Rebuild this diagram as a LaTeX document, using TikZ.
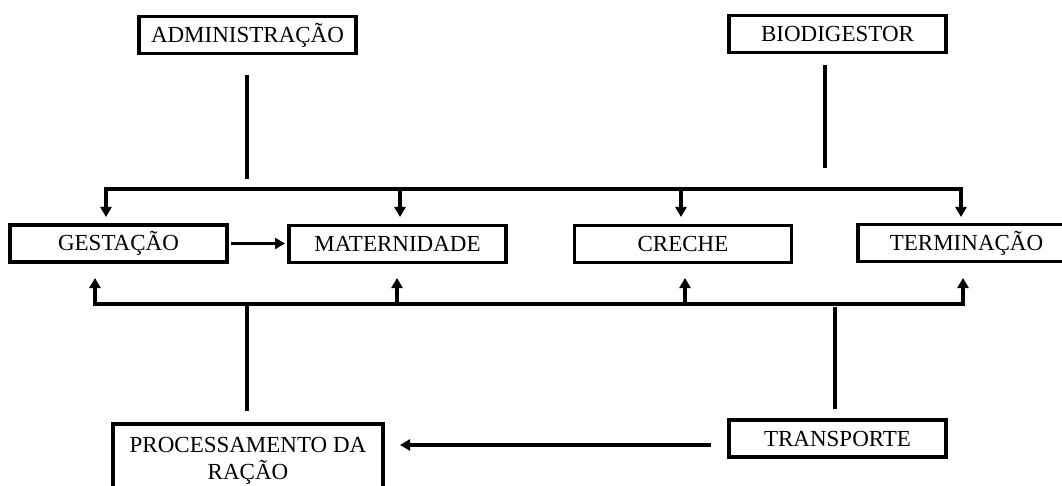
\documentclass[tikz,border=0pt]{standalone}
\usepackage{fontspec}
\setmainfont{Liberation Serif}
\usetikzlibrary{arrows.meta}
\begin{document}
\begin{tikzpicture}[x=1pt,y=-1pt,
  box/.style={draw, line width=3.1pt, minimum width=217pt, minimum height=37pt,
    inner sep=0pt, outer sep=0pt, text height=15pt, text depth=0pt,
    font=\fontsize{23}{27}\selectfont},
  procbox/.style={draw, line width=3.1pt, minimum width=270pt, minimum height=74pt,
    inner sep=0pt, outer sep=0pt, align=center,
    font=\fontsize{23}{27}\selectfont},
  conn/.style={line width=3.1pt},
  tip/.tip={Triangle[width=11pt,length=10pt]},
  arr/.style={conn, -tip},
  ]
\useasboundingbox (0,0) rectangle (1062,486);
\fill[white] (0,0) rectangle (1062,486);

% boxes
\node[box] (adm) at (247.5,35) {ADMINISTRAÇÃO};
\node[box] (bio) at (837.5,34) {BIODIGESTOR};
\node[box] (gest) at (118.5,243.5) {GESTAÇÃO};
\node[box] (mat) at (397.5,244) {MATERNIDADE};
\node[box] (cre) at (683,244) {CRECHE};
\node[box] (ter) at (966.5,243) {TERMINAÇÃO};
\node[procbox, anchor=north] (proc) at (248,424) {PROCESSAMENTO DA\\RAÇÃO};
\node[box] (tra) at (837.5,438.5) {TRANSPORTE};

% coordinates
\coordinate (admA) at (247,75);   \coordinate (admB) at (247,179);
\coordinate (bioA) at (825,65);   \coordinate (bioB) at (825,168);
\coordinate (tbL) at (106,189);   \coordinate (tbR) at (961,189);
\coordinate (tbM) at (400,189);   \coordinate (tbC) at (681,189);
\coordinate (bbL) at (95,304);    \coordinate (bbR) at (963,304);
\coordinate (bbM) at (397,304);   \coordinate (bbC) at (685,304);
\coordinate (bbP) at (247,304);   \coordinate (prA) at (247,411);
\coordinate (trA) at (835,307);   \coordinate (trB) at (835,409);
\coordinate (trL) at (711,445);   \coordinate (prR) at (400,445);

% vertical feeders
\draw[conn] (admA) -- (admB);
\draw[conn] (bioA) -- (bioB);

% top distribution bus
\draw[conn, tip-tip] (tbL |- 0,217) -- (tbL) -- (tbR) -- (tbR |- 0,217);
\draw[arr] (tbM) -- (tbM |- 0,217);
\draw[arr] (tbC) -- (tbC |- 0,217);

% bottom distribution bus
\draw[conn, tip-tip] (bbL |- 0,278) -- (bbL) -- (bbR) -- (bbR |- 0,278);
\draw[arr] (bbM) -- (bbM |- 0,278);
\draw[arr] (bbC) -- (bbC |- 0,278);
\draw[conn] (bbP) -- (prA);
\draw[conn] (trA) -- (trB);

% horizontal arrows
\draw[arr] ([xshift=4pt]gest.east) -- ([xshift=-4pt]mat.west |- gest.east);
\draw[arr] (trL) -- (prR);
\end{tikzpicture}
\end{document}
